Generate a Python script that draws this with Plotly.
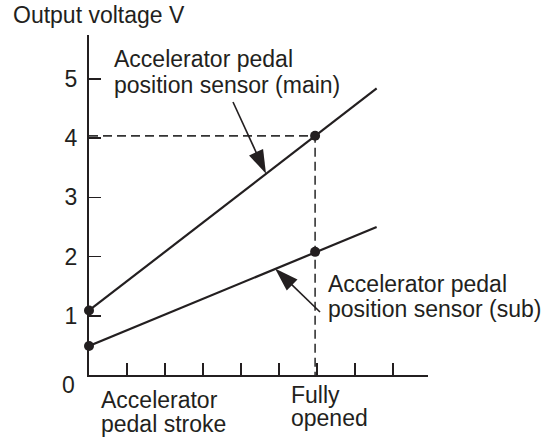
import numpy as np
import plotly.graph_objects as go

# ---- data ----
stroke = [0.0, 5.95, 7.57]            # pedal stroke (arbitrary units; 5.95 = fully opened)
main_v = [1.09, 4.04, 4.84]           # main sensor output voltage
sub_v = [0.49, 2.08, 2.50]            # sub sensor output voltage
fully_opened = 5.95
y_ticks = [1, 2, 3, 4, 5]
x_ticks = [1, 2, 3, 4, 5, 6, 7, 8]

FONT = "Liberation Sans, Arial, Helvetica, sans-serif"
INK = "#231f20"
FS = 23

# plot-area geometry (pixels)
W, H = 554, 437
L, R, T, B = 89, 126, 35, 62
XMAX, YMAX = 339 / 38.0, 340 / 59.2


def px(xp):
    return (xp - L) / (W - L - R)


def py(yp):
    return (H - B - yp) / (H - T - B)


fig = go.Figure()

# dashed guide lines at fully opened
fig.add_trace(go.Scatter(x=[0, fully_opened, fully_opened], y=[main_v[1], main_v[1], 0],
                         mode="lines", line=dict(color="#333333", width=1.6, dash="9px,5px"),
                         hoverinfo="skip", cliponaxis=False))

# sensor lines
for ys in (main_v, sub_v):
    fig.add_trace(go.Scatter(x=stroke, y=ys, mode="lines",
                             line=dict(color=INK, width=2.2), cliponaxis=False))
    fig.add_trace(go.Scatter(x=stroke[:2], y=ys[:2], mode="markers",
                             marker=dict(color=INK, size=10, opacity=1), cliponaxis=False))

# leader arrows (tip lies on the respective line)
main_tip_x = 4.658
sub_tip_x = 4.895
arrows = [
    ((233 - L) / 38.0, (H - B - 102) / 59.2, main_tip_x, float(np.interp(main_tip_x, stroke, main_v))),
    ((320 - L) / 38.0, (H - B - 312) / 59.2, sub_tip_x, float(np.interp(sub_tip_x, stroke, sub_v))),
]
for x0, y0, x1, y1 in arrows:
    fig.add_trace(go.Scatter(x=[x0, x1], y=[y0, y1], mode="lines+markers",
                             line=dict(color=INK, width=1.6),
                             marker=dict(symbol=["circle", "arrow"], size=[0, 25], color=INK,
                                         opacity=1, angleref="previous", line=dict(width=0)),
                             cliponaxis=False))

fig.update_xaxes(range=[0, XMAX], showgrid=False, zeroline=False, showline=True,
                 linecolor=INK, linewidth=2, ticks="inside", tickvals=x_ticks, ticklen=12,
                 tickwidth=1.5, tickcolor=INK, showticklabels=False, fixedrange=True)
fig.update_yaxes(range=[0, YMAX], showgrid=False, zeroline=False, showline=True,
                 linecolor=INK, linewidth=2, ticks="inside", tickvals=y_ticks, ticklen=12,
                 tickwidth=1.5, tickcolor=INK, ticklabelstandoff=5,
                 tickfont=dict(family=FONT, size=FS, color=INK), fixedrange=True)


def label(text, xl, yc, anchor="left"):
    fig.add_annotation(text=text, xref="paper", yref="paper", x=px(xl), y=py(yc),
                       xanchor=anchor, yanchor="middle", showarrow=False,
                       font=dict(family=FONT, size=FS, color=INK))


label("Output voltage V", 11, 15)
label("Accelerator pedal", 112, 59)
label("position sensor (main)", 112, 85)
label("Accelerator pedal", 326, 284)
label("position sensor (sub)", 326, 309)
label("Accelerator", 99, 400)
label("pedal stroke", 99, 424)
label("Fully", 289, 395)
label("opened", 289, 418)
label("0", 77, 385, anchor="right")

fig.update_layout(width=W, height=H, margin=dict(l=L, r=R, t=T, b=B, autoexpand=False),
                  plot_bgcolor="white", paper_bgcolor="white", showlegend=False,
                  hovermode=False, font=dict(family=FONT, size=FS, color=INK))

fig.write_html("out.html", config={"displayModeBar": False, "staticPlot": True},
               post_script="document.body.style.margin='0';")
